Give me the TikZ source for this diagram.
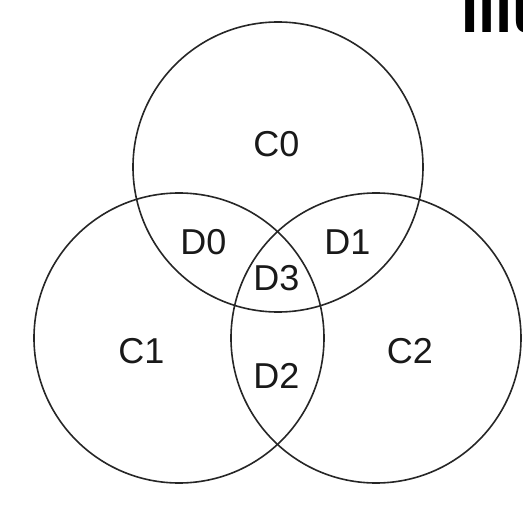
\documentclass[tikz,border=0pt]{standalone}
\usepackage{fontspec}
\setmainfont{Liberation Sans}
\begin{document}
\begin{tikzpicture}[x=1pt,y=-1pt,
  ring/.style={draw=black!85,line width=1.6pt},
  lab/.style={anchor=base,inner sep=0pt,font=\fontsize{36}{40}\selectfont,text=black!90}]
\useasboundingbox (0,0) rectangle (523,511);
\clip (0,0) rectangle (523,511);
\draw[ring] (278,167) circle [radius=145pt];
\draw[ring] (179,338) circle [radius=145pt];
\draw[ring] (376,338) circle [radius=145pt];
\node[lab] (c0) at (276.5,157) {C0};
\node[lab] (d0) at (203.5,254) {D0};
\node[lab] (d1) at (347.5,254) {D1};
\node[lab] (d3) at (276.5,290) {D3};
\node[lab] (d2) at (276.5,388) {D2};
\node[lab] (c1) at (141.5,363) {C1};
\node[lab] (c2) at (410,363) {C2};
\node[anchor=base west,inner sep=0pt,font=\bfseries\fontsize{62}{70}\selectfont] (ttl) at (461,33) {Illu};
\end{tikzpicture}
\end{document}
